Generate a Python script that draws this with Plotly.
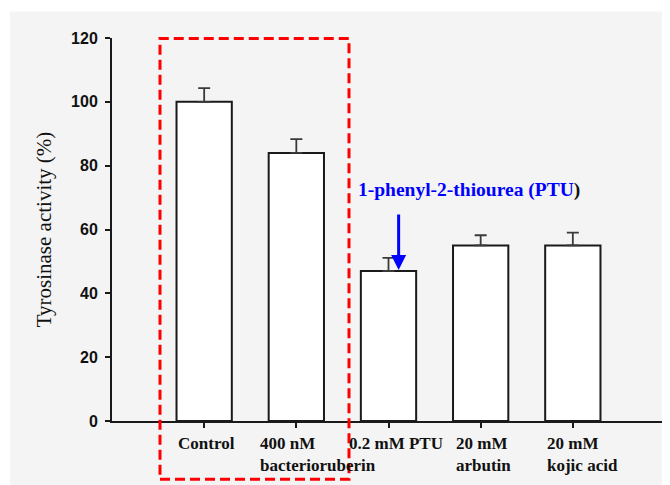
import plotly.graph_objects as go

categories = ["Control", "400 nM<br>bacterioruberin", "0.2 mM PTU", "20 mM<br>arbutin", "20 mM<br>kojic acid"]
activity = [100, 84, 47, 55, 55]
error_up = [4.3, 4.3, 4.1, 3.2, 4.0]
y_ticks = [0, 20, 40, 60, 80, 100, 120]

label_xshift = [0, -10, -13, 2, 1]

BG = "#f4f4f4"
x_idx = list(range(len(categories)))

# figure sits at page offset (8, 8) because of the default body margin
W, H = 662, 477
L, R, T, B = 104, 5, 29.5, 64.3
PW, PH = W - L - R, H - T - B

def px_x(px):  # page pixel -> paper x
    return (px - 8 - L) / PW

def px_y(py):  # page pixel -> paper y
    return (H - B - (py - 8)) / PH

fig = go.Figure()
fig.add_trace(go.Bar(
    x=x_idx, y=activity, width=0.6,
    marker=dict(color="white", line=dict(color="#1a1a1a", width=2)),
    error_y=dict(type="data", symmetric=False, array=error_up,
                 arrayminus=[0] * len(error_up),
                 color="#3a3a3a", thickness=1.8, width=6),
    showlegend=False,
))

fig.update_layout(
    width=W, height=H,
    margin=dict(l=L, r=R, t=T, b=B, autoexpand=False),
    paper_bgcolor=BG, plot_bgcolor=BG,
    xaxis=dict(range=[-1, 5], tickvals=x_idx, showticklabels=False,
               ticks="outside", ticklen=5, tickwidth=2, tickcolor="#1a1a1a",
               showline=True, linecolor="#1a1a1a", linewidth=2,
               showgrid=False, zeroline=False, fixedrange=True),
    yaxis=dict(range=[0, 120], tickvals=y_ticks,
               ticks="outside", ticklen=5, tickwidth=2, tickcolor="#1a1a1a",
               showline=True, linecolor="#1a1a1a", linewidth=2,
               showgrid=False, zeroline=False,
               tickfont=dict(family="Liberation Sans, Arial", size=16, color="#111111", weight="bold"),
               ticklabelstandoff=4,
               title=dict(text="Tyrosinase activity (%)",
                          font=dict(family="Liberation Serif, Times New Roman", size=21, color="#111111"),
                          standoff=14)),
)

# thin white strips above / left of the grey panel
fig.add_shape(type="rect", xref="paper", yref="paper",
              x0=px_x(0), x1=px_x(700), y0=px_y(11), y1=px_y(-10),
              fillcolor="white", line=dict(width=0), layer="below")
fig.add_shape(type="rect", xref="paper", yref="paper",
              x0=px_x(-10), x1=px_x(10), y0=px_y(500), y1=px_y(-10),
              fillcolor="white", line=dict(width=0), layer="below")

# category labels
for i, lab in enumerate(categories):
    fig.add_annotation(x=i - 0.3, y=0, xref="x", yref="paper",
                       text="<b>" + lab + "</b>", showarrow=False,
                       xanchor="left", yanchor="top", align="left",
                       xshift=label_xshift[i] - 1, yshift=-11,
                       font=dict(family="Liberation Serif, Times New Roman", size=17, color="#111111"))

# red dashed highlight box
fig.add_shape(type="rect", xref="paper", yref="paper",
              x0=px_x(160), x1=px_x(349), y0=px_y(479), y1=px_y(38),
              line=dict(color="#ff0000", width=3, dash="10px,5px"),
              fillcolor="rgba(0,0,0,0)")

# PTU callout
fig.add_annotation(x=1.65, y=72.3, xref="x", yref="y",
                   text="<b>1-phenyl-2-thiourea (PTU<span style='color:#111111'>)</span></b>",
                   showarrow=False, xanchor="left", yanchor="middle",
                   font=dict(family="Liberation Serif, Times New Roman", size=19.5, color="#0000ff"))
fig.add_annotation(x=2.11, y=47.3, ax=2.11, ay=65.2, xref="x", yref="y", axref="x", ayref="y",
                   text="", showarrow=True, arrowhead=2, arrowsize=1, arrowwidth=3,
                   arrowcolor="#0000ff")

fig.write_html("out.html")
